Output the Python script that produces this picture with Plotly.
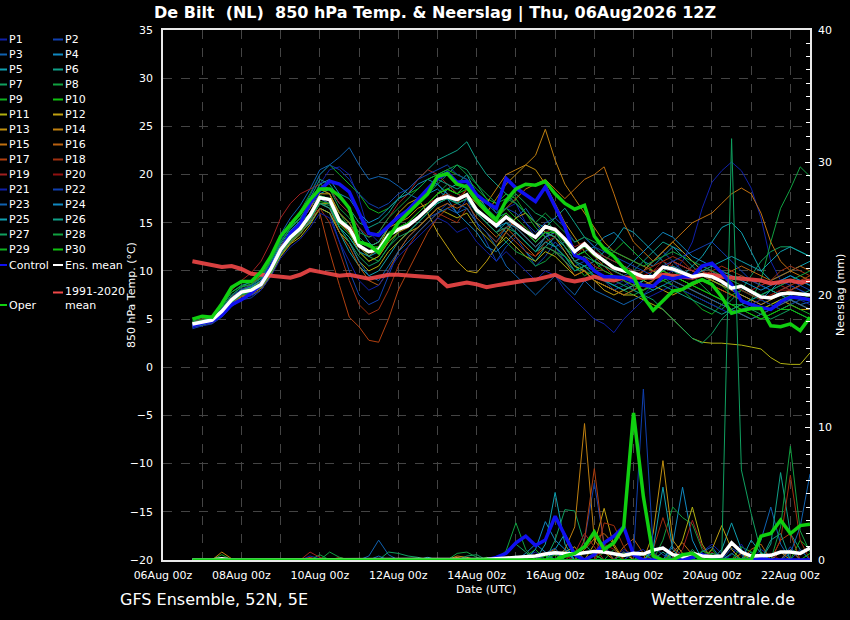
import pandas as pd
import plotly.graph_objects as go

# 6-hourly GFS ensemble steps, 06Aug 18Z .. 22Aug 12Z
times = pd.date_range("2026-08-06 18:00", periods=64, freq="6h")

# --- 850 hPa temperature (degC) ---
ens_mean_t = [4.5, 4.7, 4.9, 5.8, 7.0, 7.8, 8.0, 8.6, 10.2, 12.2, 13.5, 14.4, 15.8, 17.6, 17.4, 15.2,
              14.4, 12.6, 12.0, 12.2, 13.7, 14.3, 14.7, 15.5, 16.4, 17.4, 17.7, 17.4, 17.9, 16.3, 15.5, 14.7,
              15.6, 14.8, 14.1, 13.5, 14.6, 14.3, 13.3, 12.0, 12.8, 11.8, 11.0, 10.3, 10.0, 9.8, 9.4, 9.4,
              10.4, 10.2, 9.8, 9.4, 9.6, 9.4, 8.9, 8.2, 8.4, 7.8, 7.3, 7.2, 7.6, 7.7, 7.6, 7.5]
control_t = [4.3, 4.6, 4.8, 5.4, 6.5, 7.0, 7.7, 8.6, 10.4, 12.2, 13.9, 14.9, 17.0, 18.4, 19.3, 19.0,
             18.2, 16.0, 13.9, 13.7, 14.6, 15.6, 16.3, 17.4, 18.6, 19.6, 20.2, 19.2, 19.3, 17.9, 17.1, 16.5,
             19.6, 18.6, 17.9, 17.2, 18.7, 16.6, 14.6, 11.6, 11.2, 10.0, 9.4, 9.4, 9.3, 8.9, 8.5, 8.4,
             9.4, 9.2, 9.4, 9.4, 10.5, 10.8, 9.8, 8.6, 6.9, 6.5, 6.2, 6.0, 6.8, 7.3, 7.2, 7.0]
oper_t = [5.0, 5.3, 5.2, 6.6, 8.3, 8.9, 8.9, 9.9, 11.5, 13.6, 14.8, 16.0, 17.4, 18.5, 18.5, 17.8,
          16.5, 13.0, 12.7, 11.9, 13.4, 15.0, 16.0, 17.0, 18.0, 19.8, 20.1, 19.0, 18.7, 17.4, 16.2, 15.3,
          17.3, 18.5, 19.0, 18.9, 19.3, 18.0, 17.0, 16.4, 16.8, 13.6, 12.3, 11.5, 10.3, 9.4, 7.3, 5.9,
          6.9, 7.9, 8.1, 8.7, 9.1, 8.6, 7.3, 5.6, 5.9, 6.1, 6.1, 4.3, 4.2, 4.5, 3.8, 5.2]
clim_t = [11.0, 10.8, 10.5, 10.4, 10.5, 10.2, 9.7, 9.6, 9.6, 9.4, 9.3, 9.6, 10.1, 9.9, 9.7, 9.5,
          9.6, 9.4, 9.2, 9.4, 9.6, 9.6, 9.5, 9.5, 9.4, 9.3, 8.4, 8.6, 8.8, 8.6, 8.3, 8.5,
          8.7, 8.9, 9.0, 9.1, 9.4, 9.6, 9.1, 8.9, 9.1, 9.4, 9.1, 9.0, 9.3, 9.3, 9.3, 9.3,
          9.6, 9.5, 9.5, 9.3, 9.6, 9.6, 9.4, 9.3, 9.3, 9.1, 9.0, 8.7, 8.9, 9.0, 8.8, 9.0]

p01_t = [4.2, 4.5, 4.8, 5.5, 6.8, 7.5, 8.2, 9.0, 11.0, 13.0, 14.5, 15.5, 17.0, 19.0, 20.5, 20.8,
         20.0, 17.5, 14.0, 13.0, 14.5, 15.5, 16.5, 17.0, 18.0, 19.5, 20.0, 19.0, 18.5, 17.0, 16.0, 15.5,
         16.5, 17.0, 15.0, 13.5, 14.0, 12.5, 11.0, 10.0, 10.5, 9.5, 9.0, 8.5, 9.0, 8.0, 7.5, 8.5,
         9.5, 10.0, 11.0, 13.0, 16.5, 19.2, 20.4, 21.3, 20.4, 18.6, 15.5, 11.0, 9.0, 8.5, 8.0, 7.5]
p02_t = [4.0, 4.3, 4.5, 5.2, 6.3, 7.0, 7.2, 8.0, 9.5, 11.5, 13.0, 14.0, 15.0, 16.5, 16.0, 13.0,
         10.0, 7.5, 6.5, 7.0, 9.5, 12.0, 13.5, 14.5, 15.5, 16.0, 17.0, 16.0, 17.5, 15.0, 13.0, 11.0,
         12.5, 13.5, 12.0, 10.5, 11.5, 13.0, 12.0, 10.5, 11.0, 10.0, 9.0, 8.0, 8.5, 9.0, 10.0, 11.0,
         12.0, 11.0, 10.0, 9.5, 10.5, 10.0, 9.0, 8.0, 7.5, 7.0, 6.5, 7.0, 8.0, 8.5, 8.0, 7.5]
p03_t = [4.6, 4.9, 5.2, 6.0, 7.5, 8.3, 9.0, 9.8, 11.5, 13.8, 15.5, 16.8, 18.5, 20.5, 21.0, 21.8,
         22.8, 21.0, 19.5, 19.8, 19.5, 18.8, 18.0, 17.5, 18.5, 19.0, 18.0, 17.0, 16.5, 15.0, 14.0, 13.0,
         14.5, 15.5, 16.5, 15.0, 13.5, 12.5, 13.0, 12.0, 11.0, 10.0, 9.5, 9.0, 9.5, 10.0, 9.5, 9.0,
         10.0, 11.0, 10.5, 10.0, 9.5, 9.0, 8.5, 8.0, 7.5, 7.0, 7.5, 8.0, 7.5, 7.0, 6.5, 6.8]
p04_t = [4.4, 4.6, 5.0, 6.0, 7.2, 8.0, 8.4, 9.0, 10.5, 12.5, 14.0, 15.0, 16.5, 18.0, 18.5, 17.0,
         16.0, 14.5, 13.0, 12.0, 13.5, 15.0, 16.0, 17.0, 18.0, 18.5, 17.5, 16.0, 15.0, 14.0, 12.5, 12.0,
         13.0, 14.0, 13.0, 12.0, 13.5, 14.5, 13.0, 11.5, 12.0, 12.5, 13.5, 14.0, 13.0, 12.0, 11.0, 10.5,
         11.5, 12.5, 12.0, 11.0, 10.0, 9.5, 9.0, 8.5, 8.0, 7.5, 7.0, 8.0, 9.0, 9.5, 9.0, 8.5]
p05_t = [4.3, 4.4, 4.7, 5.6, 6.8, 7.6, 7.8, 8.4, 9.8, 11.8, 13.0, 14.0, 15.0, 16.5, 16.0, 14.0,
         12.0, 10.5, 9.5, 10.0, 11.5, 13.0, 14.0, 15.0, 16.0, 17.0, 18.5, 19.0, 20.0, 18.0, 16.5, 15.0,
         14.0, 13.0, 12.0, 11.0, 12.5, 13.5, 12.5, 11.0, 10.5, 11.0, 12.0, 13.0, 14.5, 14.0, 13.0, 12.0,
         11.0, 10.0, 9.5, 10.5, 11.5, 13.0, 14.5, 15.0, 14.0, 12.0, 10.0, 9.0, 9.5, 10.0, 10.5, 11.0]
p06_t = [4.8, 5.0, 5.3, 6.3, 7.8, 8.5, 8.8, 9.5, 11.0, 13.5, 15.0, 16.0, 17.5, 19.5, 19.0, 17.5,
         16.5, 15.0, 14.5, 15.0, 16.0, 17.5, 18.5, 19.5, 20.5, 21.5, 22.0, 22.5, 23.4, 21.5, 20.0, 19.0,
         18.0, 17.0, 16.0, 15.0, 14.5, 15.5, 16.5, 15.0, 13.5, 12.5, 11.5, 11.0, 10.5, 10.0, 11.0, 12.0,
         13.0, 12.5, 11.5, 10.5, 9.5, 9.0, 8.5, 9.0, 9.5, 9.0, 8.5, 8.0, 7.5, 8.0, 8.5, 9.0]
p07_t = [4.5, 4.7, 5.1, 6.2, 7.2, 8.0, 8.5, 9.2, 11.0, 13.0, 14.5, 15.5, 17.0, 18.5, 18.0, 16.0,
         15.0, 13.5, 12.5, 13.0, 14.5, 15.5, 16.0, 17.0, 18.0, 19.0, 20.0, 21.0, 20.5, 19.0, 17.5, 16.0,
         17.0, 18.0, 17.0, 16.0, 15.5, 14.0, 12.5, 11.0, 10.0, 9.0, 8.5, 8.0, 7.5, 8.0, 9.0, 10.0,
         9.5, 8.5, 8.0, 7.5, 7.0, 6.5, 6.0, 7.0, 8.0, 9.5, 11.0, 12.0, 12.5, 12.5, 12.0, 11.5]
p08_t = [4.6, 4.8, 5.0, 5.9, 7.0, 7.8, 8.3, 9.0, 10.5, 12.5, 14.0, 15.0, 16.0, 17.5, 17.5, 16.0,
         14.5, 13.0, 11.5, 11.0, 12.5, 14.0, 15.0, 16.0, 17.0, 18.0, 19.0, 18.0, 17.5, 16.0, 15.0, 14.0,
         13.0, 12.0, 11.5, 10.5, 11.0, 12.0, 11.5, 10.5, 10.0, 9.5, 9.0, 8.5, 8.0, 7.5, 8.0, 8.5,
         9.0, 9.5, 10.0, 9.5, 8.5, 7.5, 7.0, 6.5, 6.5, 7.0, 9.0, 13.0, 16.5, 18.5, 20.8, 19.8]
p09_t = [4.7, 4.9, 5.3, 6.5, 7.8, 8.4, 8.6, 9.4, 11.2, 13.5, 15.0, 16.2, 18.0, 20.0, 21.0, 20.0,
         19.0, 18.0, 16.5, 16.0, 16.5, 17.5, 18.0, 18.5, 19.5, 20.0, 20.5, 20.0, 19.5, 18.5, 17.5, 17.0,
         18.0, 17.5, 16.0, 14.5, 13.5, 12.5, 11.5, 10.5, 9.5, 10.0, 11.0, 12.0, 13.0, 12.0, 11.0, 10.0,
         9.0, 8.5, 8.0, 7.0, 6.0, 5.5, 6.5, 7.5, 8.0, 7.5, 7.0, 6.5, 6.0, 6.5, 7.0, 7.5]
p10_t = [4.4, 4.6, 4.9, 5.7, 6.9, 7.7, 7.9, 8.5, 10.0, 12.0, 13.3, 14.2, 15.5, 17.0, 16.5, 14.5,
         13.5, 12.0, 11.0, 11.5, 13.0, 14.0, 15.0, 16.0, 17.0, 18.0, 18.5, 18.0, 19.0, 17.0, 16.0, 15.0,
         16.0, 15.0, 14.0, 13.0, 14.0, 13.5, 12.5, 11.5, 12.0, 11.0, 10.5, 10.0, 9.5, 9.0, 8.5, 9.0,
         10.0, 9.5, 9.0, 8.5, 9.0, 9.0, 8.5, 7.5, 7.0, 6.5, 6.0, 6.5, 7.0, 7.5, 7.0, 7.0]
p11_t = [4.2, 4.4, 4.6, 5.4, 6.5, 7.3, 7.5, 8.0, 9.5, 11.5, 12.8, 13.5, 14.8, 16.5, 16.0, 14.0,
         13.0, 11.0, 10.0, 10.5, 12.0, 13.0, 14.0, 14.5, 15.5, 16.5, 16.0, 15.5, 16.0, 14.5, 13.5, 12.5,
         13.5, 12.5, 11.5, 11.0, 12.0, 11.5, 10.5, 9.5, 10.0, 9.0, 8.5, 8.0, 7.5, 7.5, 7.0, 6.5,
         6.0, 5.0, 4.0, 3.0, 2.6, 2.5, 2.5, 2.4, 2.3, 2.1, 1.9, 1.0, 0.4, 0.3, 0.3, 1.5]
p12_t = [4.5, 4.7, 5.0, 5.9, 7.1, 7.9, 8.1, 8.8, 10.3, 12.3, 13.7, 14.6, 16.0, 18.0, 18.0, 15.5,
         14.5, 12.5, 11.5, 12.5, 14.5, 16.0, 17.0, 17.5, 16.0, 14.0, 12.5, 11.0, 10.0, 9.8, 11.0, 12.5,
         14.0, 15.5, 16.0, 15.0, 14.0, 13.5, 12.0, 10.5, 10.0, 9.0, 8.0, 7.5, 8.0, 8.5, 9.0, 8.5,
         8.0, 7.5, 8.0, 8.5, 9.0, 8.5, 8.0, 7.5, 7.0, 6.5, 6.0, 6.5, 7.0, 6.5, 6.0, 6.0]
p13_t = [4.3, 4.5, 4.7, 5.6, 6.6, 7.4, 7.6, 8.2, 9.6, 11.6, 12.9, 13.8, 15.2, 17.0, 17.0, 15.0,
         14.0, 12.0, 11.0, 11.5, 13.0, 14.0, 14.5, 15.5, 16.5, 17.5, 18.0, 17.5, 18.0, 17.0, 16.0, 17.5,
         19.0, 20.0, 21.0, 20.5, 19.0, 17.0, 15.0, 13.5, 12.0, 11.0, 10.5, 10.0, 9.5, 9.0, 10.0, 11.0,
         12.0, 13.0, 12.0, 11.0, 10.0, 9.0, 8.5, 8.0, 7.5, 7.0, 6.5, 7.0, 7.5, 8.0, 8.5, 9.0]
p14_t = [4.6, 4.8, 5.1, 6.0, 7.3, 8.0, 8.3, 8.9, 10.6, 12.6, 14.0, 15.0, 16.5, 18.5, 18.0, 16.0,
         15.0, 13.0, 12.5, 13.0, 14.5, 15.0, 15.5, 16.5, 17.0, 18.0, 18.5, 18.0, 19.0, 17.5, 17.0, 18.5,
         20.0, 20.5, 21.0, 22.0, 24.7, 21.5, 19.0, 17.5, 16.0, 14.5, 13.0, 12.0, 11.5, 11.0, 10.5, 10.0,
         9.5, 9.0, 8.5, 8.0, 7.5, 7.0, 6.5, 6.0, 5.5, 5.0, 5.5, 6.0, 6.5, 7.0, 6.5, 6.0]
p15_t = [4.4, 4.6, 4.8, 5.8, 6.9, 7.7, 8.0, 8.5, 10.0, 12.0, 13.5, 14.3, 15.5, 17.5, 17.0, 15.0,
         14.0, 12.5, 12.0, 12.5, 14.0, 14.5, 15.0, 16.0, 17.0, 17.5, 18.0, 17.0, 18.5, 17.0, 16.0, 15.5,
         16.5, 17.5, 18.5, 19.0, 19.5, 18.5, 17.5, 18.5, 19.5, 20.0, 20.8, 18.0, 15.0, 13.0, 12.0, 11.0,
         12.0, 13.0, 14.0, 15.0, 15.5, 16.0, 17.0, 18.0, 18.6, 18.0, 16.0, 13.0, 11.0, 10.0, 9.5, 9.0]
p16_t = [4.2, 4.4, 4.6, 5.5, 6.6, 7.4, 7.6, 8.3, 9.8, 11.8, 13.0, 14.0, 15.2, 17.0, 16.5, 14.0,
         12.5, 10.5, 9.0, 8.5, 10.0, 12.0, 13.5, 14.5, 15.5, 16.5, 17.0, 16.5, 17.0, 15.5, 14.5, 13.5,
         14.5, 13.5, 12.5, 11.5, 12.5, 12.0, 11.0, 9.5, 10.0, 9.0, 8.5, 8.0, 7.5, 8.0, 8.5, 9.0,
         10.0, 11.0, 10.5, 10.0, 9.5, 9.0, 9.5, 10.0, 10.5, 10.0, 9.5, 9.0, 9.5, 10.0, 10.5, 10.0]
p17_t = [4.5, 4.7, 5.0, 6.0, 7.2, 8.0, 8.6, 9.6, 11.5, 13.5, 15.0, 16.0, 17.0, 16.0, 12.0, 8.5,
         5.2, 4.2, 2.8, 2.6, 5.0, 8.0, 10.0, 12.0, 14.0, 15.5, 16.5, 17.0, 17.5, 16.5, 15.5, 14.5,
         15.5, 14.5, 13.5, 12.5, 13.5, 14.0, 13.0, 12.0, 12.5, 11.5, 10.5, 9.5, 9.0, 8.5, 8.0, 9.0,
         10.0, 9.5, 9.0, 8.5, 9.0, 8.5, 8.0, 7.5, 7.0, 6.5, 7.0, 7.5, 8.0, 8.5, 9.0, 9.5]
p18_t = [4.3, 4.5, 4.8, 5.7, 6.8, 7.6, 7.8, 8.4, 9.9, 11.9, 13.2, 14.0, 15.3, 16.5, 15.0, 12.0,
         9.0, 6.5, 5.5, 6.0, 8.0, 10.5, 12.5, 14.0, 15.0, 16.0, 15.5, 15.0, 16.5, 15.0, 14.0, 13.0,
         14.0, 13.0, 12.0, 11.5, 13.0, 13.5, 12.5, 11.0, 11.5, 10.5, 10.0, 9.5, 9.0, 9.5, 10.0, 10.5,
         11.0, 11.5, 11.0, 10.0, 9.5, 10.0, 10.5, 10.0, 9.5, 9.0, 8.5, 9.0, 10.0, 10.5, 10.0, 9.5]
p19_t = [4.7, 5.0, 5.4, 6.5, 8.0, 9.0, 9.8, 11.0, 13.0, 15.5, 17.0, 18.0, 18.5, 19.0, 18.5, 17.0,
         16.0, 14.5, 13.5, 14.0, 15.5, 17.0, 18.0, 19.5, 20.5, 20.0, 19.0, 18.0, 17.5, 16.0, 15.0, 14.0,
         14.5, 15.0, 14.0, 13.0, 14.0, 14.5, 13.5, 12.5, 13.0, 12.0, 11.5, 11.0, 10.5, 10.0, 9.5, 10.0,
         10.5, 11.0, 10.5, 10.0, 10.5, 10.0, 9.5, 9.0, 8.5, 8.0, 8.5, 9.0, 8.5, 8.0, 8.5, 9.0]
p20_t = [4.4, 4.6, 4.9, 5.8, 7.0, 7.8, 8.0, 8.7, 10.3, 12.3, 13.6, 14.5, 16.0, 17.5, 17.5, 15.5,
         14.5, 13.0, 12.5, 12.0, 13.5, 14.5, 15.0, 16.0, 17.0, 17.5, 18.0, 17.5, 18.5, 17.0, 16.0, 15.0,
         16.0, 15.0, 14.5, 13.5, 14.5, 14.0, 13.0, 11.5, 12.5, 11.5, 11.0, 10.0, 9.5, 9.0, 9.5, 10.0,
         11.0, 10.5, 10.0, 9.5, 10.0, 9.5, 9.0, 8.5, 8.0, 7.5, 7.0, 7.5, 8.0, 8.0, 7.5, 7.5]
p21_t = [4.1, 4.3, 4.6, 5.4, 6.5, 7.2, 7.4, 8.0, 9.4, 11.3, 12.5, 13.3, 14.5, 16.0, 15.5, 13.0,
         11.0, 9.0, 8.0, 8.5, 10.0, 11.5, 12.5, 13.5, 14.5, 15.5, 15.0, 14.0, 14.5, 13.0, 12.0, 11.0,
         12.0, 11.0, 10.0, 9.0, 10.0, 9.5, 8.0, 7.0, 6.0, 5.0, 4.5, 3.6, 5.0, 6.0, 7.0, 7.5,
         8.0, 8.5, 8.0, 7.5, 7.0, 6.5, 6.0, 5.5, 6.0, 6.5, 7.0, 6.5, 6.0, 6.5, 7.0, 6.5]
p22_t = [4.5, 4.8, 5.1, 6.1, 7.4, 8.1, 8.5, 9.3, 11.0, 13.2, 14.8, 16.0, 17.8, 20.0, 21.0, 20.5,
         19.5, 18.0, 17.0, 16.5, 17.0, 18.0, 18.5, 19.5, 20.0, 20.5, 21.0, 20.0, 19.5, 18.0, 17.0, 16.0,
         16.5, 16.0, 15.0, 14.0, 15.0, 15.5, 14.5, 13.0, 13.5, 12.5, 12.0, 11.5, 11.0, 10.5, 10.0, 9.5,
         10.5, 11.0, 11.5, 12.0, 12.5, 13.0, 12.0, 11.0, 10.0, 9.0, 8.5, 8.0, 8.5, 9.0, 8.5, 8.0]
p23_t = [4.4, 4.6, 4.9, 5.8, 6.9, 7.7, 8.0, 8.6, 10.1, 12.1, 13.4, 14.3, 15.8, 17.5, 17.0, 14.5,
         13.0, 11.0, 9.5, 9.0, 10.5, 12.0, 13.0, 14.0, 15.0, 16.0, 16.5, 16.0, 16.5, 15.0, 14.0, 12.5,
         10.5, 9.5, 8.5, 7.5, 8.5, 9.5, 8.5, 7.5, 9.0, 8.0, 7.5, 7.0, 6.5, 7.0, 7.5, 8.0,
         8.5, 9.0, 8.5, 8.0, 7.5, 7.0, 6.5, 6.0, 5.5, 5.0, 5.5, 6.0, 6.5, 7.0, 6.5, 6.0]
p24_t = [4.6, 4.8, 5.1, 6.0, 7.2, 8.0, 8.3, 9.0, 10.7, 12.8, 14.2, 15.2, 16.8, 19.0, 19.5, 18.0,
         17.5, 16.0, 15.0, 15.5, 16.5, 17.5, 18.0, 19.0, 19.5, 19.0, 18.0, 17.0, 17.5, 16.5, 15.5, 14.5,
         15.0, 14.5, 13.5, 12.5, 13.5, 14.0, 13.0, 12.0, 12.5, 12.0, 11.0, 10.5, 10.0, 11.0, 12.0, 13.0,
         14.0, 13.5, 12.5, 11.5, 11.0, 10.5, 10.0, 9.5, 9.0, 8.5, 8.0, 8.5, 9.0, 9.5, 9.0, 8.5]
p25_t = [4.3, 4.5, 4.8, 5.7, 6.8, 7.6, 7.9, 8.5, 10.0, 12.0, 13.3, 14.2, 15.5, 17.0, 16.5, 14.5,
         13.5, 12.0, 11.5, 12.0, 13.5, 14.5, 15.0, 15.5, 16.5, 17.0, 17.5, 17.0, 17.5, 16.0, 15.0, 14.0,
         15.0, 14.0, 13.0, 12.0, 13.0, 12.5, 11.5, 10.0, 10.5, 9.5, 9.0, 8.5, 8.0, 8.5, 9.0, 9.5,
         10.0, 10.5, 10.0, 9.5, 10.0, 10.5, 11.0, 11.5, 11.0, 10.5, 10.0, 11.0, 12.0, 12.5, 12.0, 11.5]
p26_t = [4.5, 4.7, 5.0, 5.9, 7.0, 7.8, 8.1, 8.7, 10.2, 12.2, 13.5, 14.4, 15.9, 17.8, 17.5, 15.5,
         14.5, 13.0, 12.5, 13.0, 14.5, 15.5, 16.5, 17.5, 18.5, 19.5, 19.0, 18.5, 19.0, 17.5, 16.5, 15.5,
         16.0, 15.0, 14.0, 13.0, 14.0, 13.5, 12.5, 11.0, 11.5, 11.0, 10.5, 10.0, 9.5, 9.0, 8.5, 8.0,
         8.5, 8.0, 7.5, 7.0, 6.5, 6.0, 5.5, 6.0, 6.5, 7.0, 7.5, 8.0, 7.5, 7.0, 7.5, 8.0]
p27_t = [4.2, 4.4, 4.7, 5.6, 6.7, 7.5, 7.7, 8.3, 9.7, 11.7, 13.0, 13.9, 15.3, 17.0, 16.8, 14.5,
         13.0, 11.5, 10.5, 11.0, 12.5, 13.5, 14.0, 15.0, 16.0, 17.0, 17.5, 17.0, 17.5, 16.0, 15.0, 14.0,
         14.5, 14.0, 13.0, 12.0, 12.5, 12.0, 11.0, 10.0, 10.5, 10.0, 9.5, 9.0, 8.5, 8.0, 7.5, 7.0,
         6.0, 5.0, 4.0, 3.0, 2.5, 3.5, 5.0, 6.0, 6.5, 6.0, 5.5, 5.0, 5.5, 6.0, 5.5, 5.0]
p28_t = [4.7, 4.9, 5.2, 6.2, 7.5, 8.3, 8.6, 9.3, 11.0, 13.0, 14.4, 15.4, 17.0, 19.0, 18.5, 16.5,
         15.5, 14.0, 13.5, 14.0, 15.5, 16.5, 17.5, 18.5, 19.5, 20.0, 20.5, 21.0, 20.0, 19.0, 18.0, 17.0,
         17.5, 17.0, 16.0, 15.0, 16.0, 15.0, 14.0, 13.0, 13.5, 13.0, 12.5, 12.0, 11.5, 11.0, 10.5, 11.0,
         11.5, 12.0, 11.5, 11.0, 10.5, 10.0, 9.5, 9.0, 8.5, 8.0, 7.5, 8.0, 8.5, 9.0, 9.5, 10.0]
p29_t = [4.3, 4.5, 4.8, 5.6, 6.8, 7.6, 7.8, 8.4, 9.9, 11.9, 13.2, 14.1, 15.6, 17.2, 17.0, 14.8,
         13.8, 12.5, 12.0, 12.5, 14.0, 14.5, 15.0, 16.0, 17.0, 18.0, 18.5, 18.0, 19.0, 17.5, 16.5, 15.5,
         16.5, 15.5, 14.5, 13.5, 14.5, 14.0, 13.0, 11.5, 12.0, 11.0, 10.0, 9.5, 9.0, 8.5, 8.0, 8.5,
         9.0, 9.5, 9.0, 8.5, 8.0, 7.5, 7.0, 6.5, 6.0, 5.5, 5.0, 5.5, 6.0, 6.5, 6.0, 5.5]
p30_t = [4.6, 4.8, 5.0, 6.0, 7.1, 7.9, 8.2, 8.8, 10.4, 12.4, 13.7, 14.6, 16.0, 17.8, 17.5, 15.5,
         14.5, 13.0, 12.5, 12.5, 14.0, 14.5, 15.0, 16.0, 17.0, 18.0, 18.5, 18.0, 18.5, 17.0, 16.0, 15.0,
         16.0, 15.0, 14.0, 13.0, 14.0, 14.0, 13.0, 12.0, 12.5, 11.5, 11.0, 10.5, 10.0, 9.5, 9.0, 9.5,
         10.0, 9.5, 9.0, 8.5, 8.0, 7.5, 7.0, 6.5, 6.0, 5.5, 5.0, 5.5, 6.0, 6.0, 5.5, 5.0]

# --- 6h precipitation (mm) ---
ens_mean_p = [0, 0, 0, 0.1, 0, 0, 0, 0, 0, 0, 0, 0, 0.05, 0, 0, 0,
              0, 0, 0, 0.05, 0.05, 0, 0, 0, 0, 0, 0, 0.03, 0.05, 0.03, 0.05, 0.1,
              0.15, 0.2, 0.3, 0.3, 0.45, 0.55, 0.5, 0.45, 0.55, 0.65, 0.6, 0.5, 0.35, 0.5, 0.45, 0.75,
              0.9, 0.4, 0.25, 0.5, 0.3, 0.25, 0.3, 1.3, 0.6, 0.3, 0.3, 0.35, 0.6, 0.6, 0.5, 0.9]
control_p = [0, 0, 0, 0, 0, 0, 0, 0, 0, 0, 0, 0, 0, 0, 0, 0,
             0, 0, 0, 0, 0, 0, 0, 0, 0, 0, 0, 0, 0, 0, 0, 0.2,
             0.5, 1.3, 1.8, 1.1, 1.5, 3.3, 1.8, 0.4, 0, 0.4, 1.3, 1.8, 2.5, 0.4, 0, 0,
             0, 0, 0, 0.2, 0.4, 0.2, 0, 0, 0, 0, 0.1, 0, 0, 0, 0, 0]
oper_p = [0, 0, 0, 0, 0, 0, 0, 0, 0, 0, 0, 0, 0, 0, 0, 0,
          0, 0, 0, 0, 0, 0, 0, 0, 0, 0, 0, 0, 0, 0, 0, 0,
          0, 0, 0, 0, 0, 0, 0.3, 0.5, 1.0, 2.1, 0.8, 1.3, 2.5, 11.1, 4.8, 0.3,
          0, 0, 0.4, 0.5, 0, 0, 0, 0, 0, 0, 1.8, 2.0, 3.0, 2.0, 2.6, 2.7]

p01_p = [0, 0, 0, 0, 0, 0, 0, 0, 0, 0, 0, 0, 0.3, 0.1, 0, 0,
         0, 0, 0, 0, 0, 0, 0, 0, 0, 0, 0, 0, 0, 0, 0, 0,
         0, 0, 0, 0, 0, 0.5, 0.3, 0, 0, 0, 0, 0, 0.8, 0.4, 0, 0,
         0, 0, 0, 0, 0.6, 1.2, 0.5, 0, 0, 0, 0.8, 0.3, 0, 0, 0, 0]
p02_p = [0, 0, 0, 0, 0, 0, 0, 0, 0, 0, 0, 0, 0, 0, 0, 0,
         0, 0, 0, 0, 0, 0, 0, 0, 0, 0, 0, 0, 0, 0, 0, 0,
         0, 0, 0, 0, 0.4, 0, 0, 0, 1.5, 5.8, 1.2, 0, 0, 0, 0, 0.6,
         0, 0, 0, 0, 0, 0, 0, 0.9, 0.4, 0, 0, 0, 0, 1.0, 0, 0]
p03_p = [0, 0, 0, 0, 0, 0, 0, 0, 0, 0, 0, 0, 0, 0, 0, 0,
         0, 0, 0.3, 1.5, 0.4, 0, 0, 0, 0, 0, 0, 0, 0, 0, 0, 0,
         0, 0, 0, 0, 0, 0, 0.8, 0.4, 0, 0, 0, 0, 0, 0, 0, 0,
         0, 1.0, 0.3, 0, 0, 0, 0, 0, 0, 0, 1.5, 4.0, 1.2, 0, 0, 0]
p04_p = [0, 0, 0, 0, 0, 0, 0, 0, 0, 0, 0, 0, 0, 0, 0, 0,
         0, 0, 0, 0, 0, 0, 0, 0, 0, 0, 0, 0, 0, 0, 0, 0,
         0, 0, 0.5, 1.2, 0.6, 0, 0, 0, 0, 0, 0, 0, 0, 0, 0, 0,
         0, 1.2, 5.5, 1.5, 0, 0, 0, 0, 0, 0.6, 0, 0, 0, 0, 0, 0]
p05_p = [0, 0, 0, 0, 0, 0, 0, 0, 0, 0, 0, 0, 0, 0, 0, 0,
         0, 0, 0, 0, 0, 0, 0, 0, 0, 0, 0, 0, 0, 0, 0, 0,
         0, 0, 0, 0, 0, 0.8, 2.0, 0.6, 0, 0, 0, 0, 0, 0, 0.5, 0,
         0, 0, 0, 0, 0, 0, 0.8, 2.8, 0.8, 0, 0, 0, 0, 0, 0, 0]
p06_p = [0, 0, 0, 0, 0, 0, 0, 0, 0, 0, 0, 0, 0, 0, 0, 0,
         0, 0, 0, 0, 0, 0, 0, 0, 0, 0, 0, 0, 0, 0, 0, 0,
         0, 0, 0, 0, 0.4, 0, 0, 0, 0, 0, 0, 0, 0, 0.6, 0, 0,
         0, 0, 0, 0, 0, 0, 0, 0, 0, 0, 0, 1.2, 6.6, 2.0, 0.8, 0]
p07_p = [0, 0, 0, 0, 0, 0, 0, 0, 0, 0, 0, 0, 0, 0, 0, 0,
         0, 0, 0, 0, 0.6, 0.5, 0.3, 0.2, 0, 0, 0, 0, 0, 0, 0, 0,
         0, 0, 0, 0, 0, 1.5, 3.8, 3.7, 1.2, 0.4, 0, 0, 0, 0, 0, 0,
         0, 0, 0, 0.8, 0, 0, 0, 0, 0, 0, 0, 0, 0, 0, 0, 0]
p08_p = [0, 0, 0, 0, 0, 0, 0, 0, 0, 0, 0, 0, 0, 0.4, 0, 0,
         0, 0, 0, 0, 0, 0, 0, 0, 0, 0, 0, 0, 0, 0, 0, 0,
         0, 0, 0, 0, 0, 0.6, 0, 0, 0, 0, 0, 0.8, 0, 0, 0, 0,
         1.5, 4.0, 3.2, 2.7, 0.8, 0, 0, 0, 0, 0, 0, 0, 0, 0, 0, 0]
p09_p = [0, 0, 0, 0.4, 0, 0, 0, 0, 0, 0, 0, 0, 0, 0, 0, 0,
         0, 0, 0, 0, 0, 0, 0, 0, 0, 0, 0, 0, 0, 0, 0, 0,
         0, 0, 0.3, 0.8, 0, 0, 0, 0, 0, 0, 0, 0, 0.5, 0, 0, 0,
         0, 0, 0, 0, 0, 0, 0, 0, 1.0, 0.6, 0, 0, 0, 0, 1.5, 0.8]
p10_p = [0, 0, 0, 0, 0, 0, 0, 0, 0, 0, 0, 0, 0, 0, 0, 0,
         0, 0, 0, 0, 0, 0, 0, 0, 0, 0, 0, 0, 0, 0, 0, 0,
         0, 0, 0, 0, 0.3, 0, 0, 0, 0, 0, 0.6, 0.4, 0, 0, 0, 0,
         0, 0, 0, 0, 0, 0.8, 0, 0, 0, 0, 0, 0, 0, 0, 0, 0]
p11_p = [0, 0, 0, 0, 0, 0, 0, 0, 0, 0, 0, 0, 0, 0, 0, 0,
         0, 0, 0, 0, 0, 0, 0, 0, 0, 0, 0, 0, 0, 0, 0, 0,
         0, 0, 0, 0, 0, 0, 0, 0, 0, 0, 0, 0, 0.6, 0, 0, 0,
         0, 0, 1.5, 4.0, 1.2, 0, 0, 0, 0, 0, 0.5, 0, 0, 0, 0, 0]
p12_p = [0, 0, 0, 0, 0, 0, 0, 0, 0, 0, 0, 0, 0, 0, 0, 0,
         0, 0, 0, 0, 0, 0, 0, 0, 0, 0, 0, 0, 0, 0, 0, 0,
         0, 0, 0, 0, 0, 0, 0, 0, 0, 1.2, 3.9, 1.0, 0, 0, 0, 0,
         0, 0, 0, 0, 0, 0.8, 2.6, 0.8, 0, 0, 0, 0, 0, 0, 0, 0]
p13_p = [0, 0, 0, 0, 0, 0, 0, 0, 0, 0, 0, 0, 0, 0, 0, 0,
         0, 0, 0, 0, 0, 0, 0, 0, 0, 0, 0, 0, 0, 0, 0, 0,
         0, 0, 0, 0, 0, 0, 0.6, 1.0, 0, 0, 0, 0, 0, 0, 0, 2.0,
         7.5, 1.5, 0.5, 0, 0, 0, 0, 0, 0, 0, 0, 0, 0.6, 0, 0, 0]
p14_p = [0, 0, 0, 0.6, 0.1, 0, 0, 0, 0, 0, 0, 0, 0, 0, 0, 0,
         0, 0, 0, 0, 0, 0, 0, 0, 0, 0, 0, 0.3, 0.2, 0, 0, 0,
         0, 0, 0, 0, 0, 0, 0.8, 2.5, 10.3, 1.5, 0.6, 0, 0, 0, 0, 0,
         0, 0, 0, 0, 0, 0, 0, 0, 0.5, 0, 0, 0, 0, 0, 0, 0]
p15_p = [0, 0, 0, 0, 0, 0, 0, 0, 0, 0, 0, 0, 0, 0, 0, 0,
         0, 0, 0, 0, 0, 0, 0, 0, 0, 0, 0, 0.2, 0, 0, 0, 0,
         0, 0, 0, 0, 0, 0, 0, 0, 0.8, 1.6, 2.0, 1.2, 0, 0, 0, 0,
         0, 0.6, 1.3, 0.4, 0, 0, 0, 0, 0, 0, 0, 0, 0, 0.8, 0, 0]
p16_p = [0, 0, 0, 0, 0, 0, 0, 0, 0, 0, 0, 0, 0, 0, 0, 0,
         0, 0, 0, 0, 0, 0, 0, 0, 0, 0, 0, 0, 0, 0, 0, 0,
         0, 0, 0, 0, 0.5, 0.8, 0, 0, 0, 0, 0, 0, 1.0, 1.6, 0.5, 0,
         0, 0, 0, 0, 0, 0, 0, 0, 0, 0.8, 1.2, 0, 0, 0, 0, 0]
p17_p = [0, 0, 0, 0, 0, 0, 0, 0, 0, 0, 0, 0, 0.2, 0, 0, 0,
         0, 0, 0, 0, 0, 0, 0, 0, 0, 0, 0, 0, 0, 0, 0, 0,
         0, 0, 0, 0, 0, 0, 0, 0, 1.5, 6.9, 1.0, 0, 0, 0, 0, 0.5,
         0, 0, 0, 0, 0, 0, 0, 0, 0, 0, 0, 0, 1.5, 2.0, 0, 0]
p18_p = [0, 0, 0, 0, 0, 0, 0, 0, 0, 0, 0, 0, 0, 0, 0, 0.2,
         0, 0, 0, 0, 0, 0, 0, 0, 0, 0, 0, 0, 0, 0, 0, 0,
         0, 0, 0, 0, 0, 0, 0, 0, 0, 0, 2.8, 2.6, 1.0, 0, 0, 0.8,
         3.2, 1.0, 0, 0, 0, 0, 0, 0, 0, 0, 0, 0, 1.5, 6.4, 1.5, 0]
p19_p = [0, 0, 0, 0, 0, 0, 0, 0, 0, 0, 0, 0, 0.6, 0.2, 0, 0,
         0, 0, 0, 0, 0, 0, 0, 0, 0, 0, 0, 0, 0, 0, 0, 0,
         0, 0, 0, 0, 0, 0, 0, 0.5, 2.0, 1.0, 0, 0, 0, 0, 0, 0,
         0, 0, 0.8, 3.0, 1.0, 0, 0, 0, 0, 0, 0, 0, 0, 0, 0, 0]
p20_p = [0, 0, 0, 0, 0, 0, 0, 0, 0, 0, 0, 0, 0, 0, 0, 0,
         0, 0, 0, 0, 0, 0, 0, 0, 0, 0, 0, 0, 0, 0, 0, 0,
         0, 0, 0, 0, 0, 0, 0.3, 0, 0, 0, 1.2, 0.8, 0, 0, 0, 0,
         0, 0, 0, 0, 0, 0.6, 0, 0, 0, 0, 0, 0.5, 0, 0, 0, 0]
p21_p = [0, 0, 0, 0, 0, 0, 0, 0, 0, 0, 0, 0, 0, 0, 0, 0,
         0, 0, 0, 0, 0, 0, 0, 0, 0, 0, 0, 0, 0, 0, 0, 0,
         0, 0, 0.3, 0.6, 0, 0, 0, 0, 0, 0, 0, 0, 0, 0.5, 0.8, 0,
         0, 0, 0, 0, 0, 0, 0, 0.4, 1.2, 0, 0, 0, 0, 0, 0, 0]
p22_p = [0, 0, 0, 0, 0, 0, 0, 0, 0, 0, 0, 0, 0, 0, 0, 0,
         0, 0, 0, 0, 0, 0, 0, 0, 0, 0, 0, 0, 0, 0, 0, 0,
         0, 0, 0, 0, 0, 0.5, 0, 0, 0, 0, 0, 0, 0.6, 0.5, 12.9, 1.0,
         0.4, 0, 0, 0, 0, 0, 0, 0, 0, 0, 0, 0, 0, 0, 0.8, 0]
p23_p = [0, 0, 0, 0, 0, 0, 0, 0, 0, 0, 0, 0, 0, 0, 0, 0,
         0, 0, 0, 0.3, 0, 0, 0, 0, 0, 0, 0, 0, 0, 0, 0, 0,
         0, 0, 0, 0, 0.5, 0.9, 0, 0, 0, 0, 0, 0, 0, 0, 0, 0,
         0, 0, 0, 0, 0.6, 1.0, 0, 0, 0, 0, 0, 0, 0, 0.5, 2.5, 6.5]
p24_p = [0, 0, 0, 0, 0, 0, 0, 0, 0, 0, 0, 0, 0, 0, 0, 0,
         0, 0, 0, 0, 0, 0, 0, 0, 0, 0, 0, 0, 0, 0, 0, 0,
         0, 0, 0, 0.8, 2.9, 1.5, 0.8, 0, 0, 0, 0, 0, 0, 0, 0, 0.6,
         1.0, 0, 0, 0, 0, 0, 0, 0, 0, 0, 0.4, 0, 0, 0, 0, 0]
p25_p = [0, 0, 0, 0, 0, 0, 0, 0, 0, 0, 0, 0, 0, 0, 0, 0,
         0, 0, 0, 0, 0, 0, 0, 0, 0.2, 0, 0, 0, 0, 0, 0, 0,
         0, 0, 0, 0, 1.2, 5.1, 1.2, 0, 0, 0, 0, 0, 0, 0, 0, 0.8,
         5.5, 0.8, 0, 0, 0, 0, 0, 0, 0, 1.5, 0.5, 0, 0, 0, 0, 0]
p26_p = [0, 0, 0, 0, 0, 0, 0, 0, 0, 0, 0, 0, 0, 0, 0, 0,
         0, 0, 0, 0, 0, 0, 0, 0, 0, 0, 0, 0, 0, 0, 0, 0,
         0, 0.3, 0, 0, 0, 0, 0.6, 0, 0, 0, 0, 0, 0, 0, 0, 0,
         0.6, 0, 0, 0, 0, 0, 0, 0.5, 0, 0, 0, 1.5, 2.0, 0, 0, 0]
p27_p = [0, 0, 0, 0, 0, 0, 0, 0, 0, 0, 0, 0, 0, 0, 0, 0,
         0, 0, 0, 0, 0, 0, 0, 0, 0, 0, 0, 0, 0.3, 0.4, 0, 0,
         0.6, 1.2, 0.6, 0, 0, 0, 0, 0, 0, 0, 0, 0, 0, 0, 0, 0,
         0, 0, 0, 0, 0, 0.5, 0.3, 31.8, 6.8, 3.5, 0.6, 0, 0, 0, 0, 0]
p28_p = [0, 0, 0, 0, 0, 0, 0, 0, 0, 0, 0, 0, 0, 0, 0.6, 0.2,
         0, 0, 0, 0, 0, 0, 0, 0, 0, 0, 0, 0.5, 0.6, 0.2, 0, 0,
         0.7, 2.8, 0.8, 0, 0, 0, 0, 0, 0, 0, 0, 0, 0, 0, 0, 0,
         0, 0, 0, 0, 0, 0, 0, 0, 0, 0, 0, 0, 2.5, 8.6, 2.2, 0.6]
p29_p = [0, 0, 0, 0, 0, 0, 0, 0, 0, 0, 0, 0, 0, 0, 0, 0,
         0, 0, 0, 0, 0, 0, 0, 0, 0, 0, 0, 0, 0, 0, 0, 0,
         0, 0, 0, 0, 0, 0, 0, 0, 0.6, 0.4, 0, 0, 0, 0, 0, 0,
         0, 0, 0.5, 0, 0.7, 0.4, 0, 0, 0, 0, 0, 0, 0, 0, 0, 0]
p30_p = [0, 0, 0, 0, 0, 0, 0, 0, 0, 0, 0, 0, 0, 0, 0, 0,
         0, 0, 0, 0, 0, 0, 0, 0, 0, 0, 0, 0, 0, 0, 0.2, 0,
         0, 0, 0, 0, 0, 0.4, 0, 0, 0, 0, 0, 0, 0, 0, 0.5, 0,
         0, 0.4, 0, 0, 0, 0, 0, 0, 0, 0.4, 0, 0, 0, 0, 0, 0.5]

members_t = [p01_t, p02_t, p03_t, p04_t, p05_t, p06_t, p07_t, p08_t, p09_t, p10_t,
             p11_t, p12_t, p13_t, p14_t, p15_t, p16_t, p17_t, p18_t, p19_t, p20_t,
             p21_t, p22_t, p23_t, p24_t, p25_t, p26_t, p27_t, p28_t, p29_t, p30_t]
members_p = [p01_p, p02_p, p03_p, p04_p, p05_p, p06_p, p07_p, p08_p, p09_p, p10_p,
             p11_p, p12_p, p13_p, p14_p, p15_p, p16_p, p17_p, p18_p, p19_p, p20_p,
             p21_p, p22_p, p23_p, p24_p, p25_p, p26_p, p27_p, p28_p, p29_p, p30_p]
member_names = [f"P{k}" for k in range(1, 31)]

x_ticks = pd.date_range("2026-08-06", "2026-08-22", freq="2D")

# member colour cycle (20 colours, P21.. repeats)
PAL = ["#1020a8", "#1040b0", "#1062b0", "#1088c0", "#10a0b0", "#10a088", "#10a060", "#10a040",
       "#10b020", "#10c010", "#b0b010", "#c0a010", "#c09010", "#c08010", "#c07010", "#b86010",
       "#b04010", "#a03010", "#a02020", "#901010"]
CONTROL = "#1010f0"
OPER = "#10d010"
CLIM = "#f04848"
GRID = "#444444"
FONT = "DejaVu Sans"

fig = go.Figure()

for k, (name, tt) in enumerate(zip(member_names, members_t)):
    fig.add_trace(go.Scatter(x=times, y=tt, mode="lines", name=name,
                             line=dict(color=PAL[k % 20], width=1), yaxis="y"))

fig.add_trace(go.Scatter(x=times, y=clim_t, mode="lines", name="1991-2020 mean",
                         line=dict(color=CLIM, width=4), opacity=0.9, yaxis="y"))
fig.add_trace(go.Scatter(x=times, y=control_t, mode="lines", name="Control",
                         line=dict(color=CONTROL, width=3.5), yaxis="y"))
fig.add_trace(go.Scatter(x=times, y=ens_mean_t, mode="lines", name="Ens. mean",
                         line=dict(color="white", width=3.5), yaxis="y"))
fig.add_trace(go.Scatter(x=times, y=oper_t, mode="lines", name="Oper",
                         line=dict(color=OPER, width=3.5), yaxis="y"))

for k, (name, pp) in enumerate(zip(member_names, members_p)):
    fig.add_trace(go.Scatter(x=times, y=pp, mode="lines", name=name, showlegend=False,
                             line=dict(color=PAL[k % 20], width=1), yaxis="y2"))
fig.add_trace(go.Scatter(x=times, y=control_p, mode="lines", showlegend=False,
                         line=dict(color=CONTROL, width=3.5), yaxis="y2"))
fig.add_trace(go.Scatter(x=times, y=ens_mean_p, mode="lines", showlegend=False,
                         line=dict(color="white", width=3.5), yaxis="y2"))
fig.add_trace(go.Scatter(x=times, y=oper_p, mode="lines", showlegend=False,
                         line=dict(color=OPER, width=3.5), yaxis="y2"))

# plot area in pixels: x 163..810, y 30..560
L, R, T, B = 163, 810, 30, 560


def px(x):
    return (x - L) / (R - L)


def py(y):
    return (B - y) / (B - T)


# hand-placed two-column legend, like the original
shapes = []
annots = []
legend_rows = [(member_names[i], PAL[i % 20], member_names[i + 1], PAL[(i + 1) % 20])
               for i in range(0, 30, 2)]
for r, (n1, c1, n2, c2) in enumerate(legend_rows):
    yy = 39.5 + 15 * r
    shapes.append(dict(type="line", xref="paper", yref="paper", x0=px(0), x1=px(7),
                       y0=py(yy), y1=py(yy), line=dict(color=c1, width=2)))
    shapes.append(dict(type="line", xref="paper", yref="paper", x0=px(53), x1=px(63),
                       y0=py(yy), y1=py(yy), line=dict(color=c2, width=2)))
    annots.append(dict(text=n1, x=px(6.5), y=py(yy)))
    annots.append(dict(text=n2, x=px(62.5), y=py(yy)))

extra = [(0, 7, 6.5, 265, CONTROL, "Control"),
         (53, 63, 62.5, 265, "white", "Ens. mean"),
         (0, 7, 6.5, 305, OPER, "Oper")]
for x0, x1, xt, yy, c, t in extra:
    shapes.append(dict(type="line", xref="paper", yref="paper", x0=px(x0), x1=px(x1),
                       y0=py(yy), y1=py(yy), line=dict(color=c, width=2)))
    annots.append(dict(text=t, x=px(xt), y=py(yy)))
shapes.append(dict(type="line", xref="paper", yref="paper", x0=px(53), x1=px(63),
                   y0=py(292.5), y1=py(292.5), line=dict(color=CLIM, width=2)))
annots.append(dict(text="1991-2020<br>mean", x=px(62.5), y=py(298)))

annotations = []
for a in annots:
    annotations.append(dict(text=a["text"], x=a["x"], y=a["y"], xref="paper", yref="paper",
                            xanchor="left", yanchor="middle", align="left", showarrow=False,
                            font=dict(family=FONT, size=11, color="white")))

# axis titles placed like the original
annotations.append(dict(text="850 hPa Temp. (°C)", x=px(131), y=0.5, xref="paper", yref="paper",
                        textangle=-90, xanchor="center", yanchor="middle", showarrow=False,
                        font=dict(family=FONT, size=11, color="white")))
annotations.append(dict(text="Neerslag (mm)", x=px(840), y=0.5, xref="paper", yref="paper",
                        textangle=-90, xanchor="center", yanchor="middle", showarrow=False,
                        font=dict(family=FONT, size=11, color="white")))
annotations.append(dict(text="Date (UTC)", x=px(486), y=py(589), xref="paper", yref="paper",
                        xanchor="center", yanchor="middle", showarrow=False,
                        font=dict(family=FONT, size=11, color="white")))

annotations.append(dict(text="GFS Ensemble, 52N, 5E", x=px(118), y=py(599), xref="paper",
                        yref="paper", xanchor="left", yanchor="middle", showarrow=False,
                        font=dict(family=FONT, size=16, color="white")))
annotations.append(dict(text="Wetterzentrale.de", x=px(797), y=py(599), xref="paper",
                        yref="paper", xanchor="right", yanchor="middle", showarrow=False,
                        font=dict(family=FONT, size=16, color="white")))

fig.update_layout(
    width=850, height=620,
    paper_bgcolor="black", plot_bgcolor="black",
    font=dict(family=FONT, size=11, color="white"),
    showlegend=False,
    margin=dict(l=L, r=850 - R, t=T, b=620 - B),
    title=dict(text="<b>De Bilt\u00a0\u00a0(NL)\u00a0\u00a0850 hPa Temp. &amp; Neerslag | Thu, 06Aug2026 12Z</b>",
               x=435 / 850, xanchor="center", y=1 - 12 / 620, yanchor="middle", yref="container",
               font=dict(family=FONT, size=16, color="white")),
    xaxis=dict(
        type="date", range=["2026-08-06 00:00", "2026-08-22 12:00"],
        tickvals=x_ticks, tickformat="%d%b %Hz",
        showgrid=True, gridcolor=GRID, griddash="dash", gridwidth=1,
        minor=dict(dtick=86400000, tick0="2026-08-06", showgrid=True, gridcolor=GRID, griddash="dash"),
        showline=True, linecolor="#e8e8e8", linewidth=1.5, mirror=True, zeroline=False,
        ticks="", tickfont=dict(size=11, color="white"), ticklabelstandoff=4,
    ),
    yaxis=dict(
        range=[-20, 35], dtick=5, showgrid=True, gridcolor=GRID, griddash="dash",
        zeroline=False, showline=True, linecolor="#e8e8e8", linewidth=1.5, mirror=True,
        ticks="", tickfont=dict(size=11, color="white"), ticklabelstandoff=6,
    ),
    yaxis2=dict(
        overlaying="y", side="right", range=[0, 40], dtick=10, showgrid=False, zeroline=False,
        showline=True, linecolor="#e8e8e8", linewidth=1.5,
        ticks="inside", ticklen=5, tickcolor="white",
        minor=dict(dtick=1, ticks="inside", ticklen=4, tickcolor="white"),
        tickfont=dict(size=11, color="white"), ticklabelstandoff=4,
    ),
    shapes=shapes,
    annotations=annotations,
)

# page body margin would shift the 850x620 figure; drop it so the canvas fills the window
fig.write_html("out.html", config={"displayModeBar": False},
               post_script="document.body.style.margin='0';document.body.style.background='black';")
